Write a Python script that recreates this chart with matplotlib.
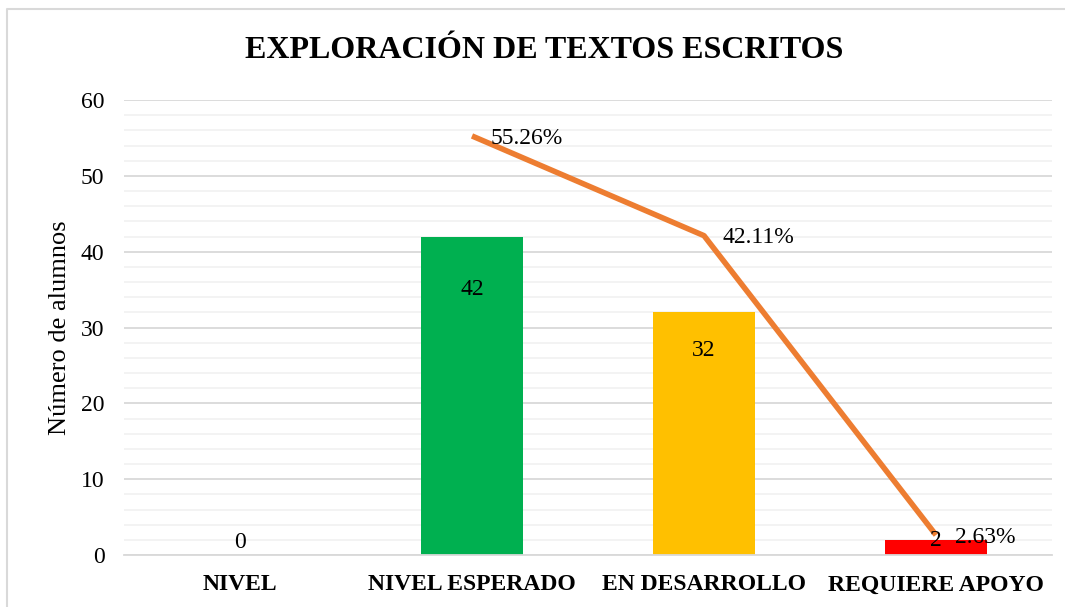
import matplotlib.pyplot as plt
from matplotlib.lines import Line2D
import numpy as np

plt.rcParams['font.family'] = ['Liberation Serif', 'DejaVu Serif']

categorias = ['NIVEL', 'NIVEL ESPERADO', 'EN DESARROLLO', 'REQUIERE APOYO']
alumnos = [0, 42, 32, 2]
colores = ['#4472C4', '#00B050', '#FFC000', '#FF0000']
porcentajes = [55.26, 42.11, 2.63]
pct_labels = ['55.26%', '42.11%', '2.63%']

fig = plt.figure(figsize=(10.65, 6.07), dpi=100)
ax = fig.add_axes([124/1065, 1 - 555/607, 928/1065, 455/607])

x = np.arange(len(categorias))
ax.bar(x, alumnos, width=0.44, color=colores, zorder=2)

# percentage line, drawn for the last three categories
xl = x[1:]
ax.plot(xl, porcentajes, color='#ED7D31', lw=4, zorder=3, solid_capstyle='butt')

# bar value labels (offsets in data units)
offs = [1.6, -7.0, -5.0, -0.1]
for xi, v, o in zip(x, alumnos, offs):
    ax.text(xi, v + o, str(v), ha='center', va='center', fontsize=17, zorder=4)

for xi, p, lab in zip(xl, porcentajes, pct_labels):
    ax.text(xi + 0.08, p - 0.3, lab, ha='left', va='center', fontsize=17, zorder=4)

ax.set_xlim(-0.5, 3.5)
ax.set_ylim(0, 60)
ax.set_yticks(range(0, 61, 10))
ax.set_yticks(range(0, 61, 2), minor=True)
ax.grid(axis='y', which='major', color='#D9D9D9', lw=1.3, zorder=0)
ax.grid(axis='y', which='minor', color='#F2F2F2', lw=1.3, zorder=0)
ax.tick_params(axis='y', which='both', length=0, labelsize=17, pad=14)
ax.tick_params(axis='x', length=0, pad=14)
ax.set_xticks(x)
ax.set_xticklabels(categorias, fontsize=17, fontweight='bold')
for s in ['top', 'right', 'left']:
    ax.spines[s].set_visible(False)
ax.spines['bottom'].set_color('#D9D9D9')
ax.spines['bottom'].set_linewidth(1.3)
ax.set_ylabel('Número de alumnos', fontsize=19, labelpad=7)

fig.text(544/1065, 1 - 50/607, 'EXPLORACIÓN DE TEXTOS ESCRITOS', ha='center', va='center',
         fontsize=23, fontweight='bold')

# outer chart border: only left and top edges show in the crop
bx, by = 7/1065, 1 - 9/607
fig.lines.append(Line2D([bx, bx, 1.0], [0.0, by, by], transform=fig.transFigure,
                        color='#D9D9D9', lw=1.5))

fig.savefig('out.png', dpi=100)
